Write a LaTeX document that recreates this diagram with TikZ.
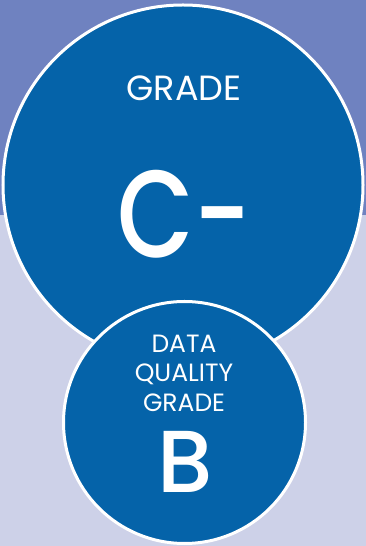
\documentclass[tikz,border=0pt]{standalone}
\usepackage{fontspec}
\setmainfont{Poppins}
\IfFontExistsTF{Poppins Medium}
  {\newfontfamily\heavyfont{Poppins Medium}}
  {\newfontfamily\heavyfont{Poppins}[FakeBold=1.2]\def\extrabold{\bfseries}}
\providecommand\extrabold{}
\usepackage{tikz}
\usetikzlibrary{positioning}
\definecolor{topband}{HTML}{6F82C0}
\definecolor{lowband}{HTML}{CDD1E8}
\definecolor{gradeblue}{HTML}{0563A9}

\begin{document}
\begin{tikzpicture}[x=1pt, y=1pt,
                    disc/.style = {draw=white, line width=3pt, fill=gradeblue, circle, inner sep=0pt},
                    lbl/.style = {text=white, anchor=base, inner sep=0pt}]
                    % background bands
                    \fill[lowband] (0,0) rectangle (366,546);
                    \fill[topband] (0,331) rectangle (366,546);
                    \useasboundingbox (0,0) rectangle (366,546);

                    \node[disc, minimum size=360pt] (big) at (183,361) {};
                    \node[disc, minimum size=242pt] (small) at (184.5,123.5) {};

                    \node[lbl, font=\fontsize{35}{35}\selectfont] (gradetop) at (184,445) {GRADE};
                    \node[lbl, xscale=0.8, font=\heavyfont\extrabold\fontsize{124}{124}\selectfont] (cminus) at (184.5,288) {C-};

                    \node[lbl, font=\fontsize{25}{25}\selectfont] (data) at (184,193) {DATA};
                    \node[lbl, font=\fontsize{25}{25}\selectfont] (quality) at (184,164) {QUALITY};
                    \node[lbl, font=\fontsize{25}{25}\selectfont] (gradelow) at (184,134) {GRADE};
                    \node[lbl, font=\heavyfont\extrabold\fontsize{88}{88}\selectfont] (bgrade) at (185,53) {B};
                \end{tikzpicture}
\end{document}
